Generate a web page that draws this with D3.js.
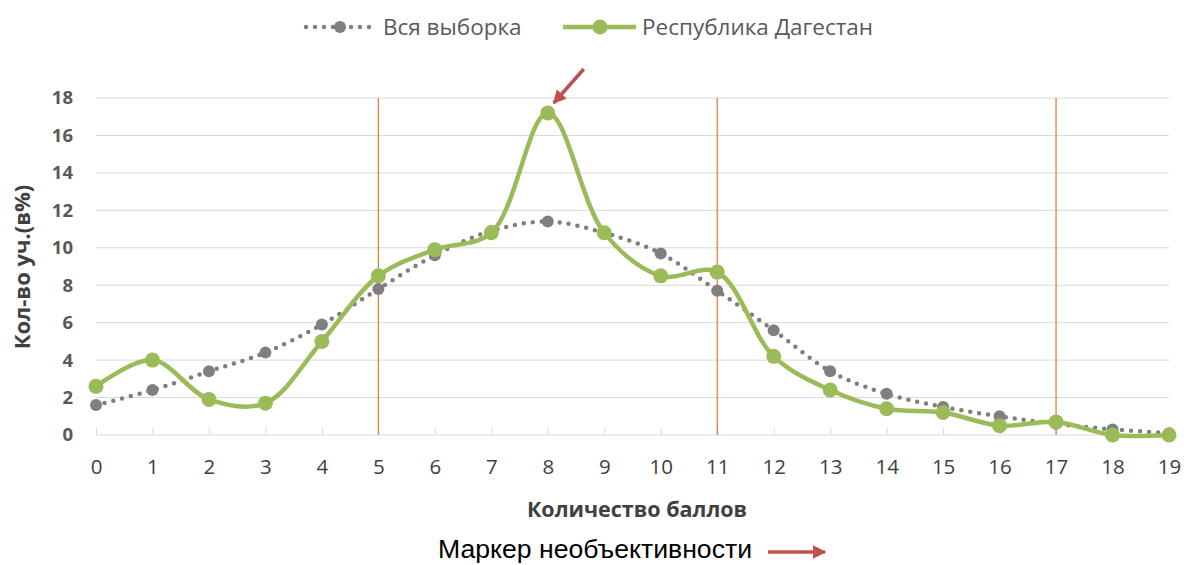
<!DOCTYPE html>
<html><head><meta charset="utf-8">
<script src="https://cdn.jsdelivr.net/npm/d3@7"></script>
<style>body{margin:0;background:#fff}svg{display:block}</style>
</head><body>
<svg id="c" width="1184" height="565"></svg>
<script>
const categories = d3.range(0, 20);
const allSample = [1.6, 2.4, 3.4, 4.4, 5.9, 7.8, 9.6, 10.9, 11.4, 10.8, 9.7, 7.7, 5.6, 3.4, 2.2, 1.5, 1.0, 0.6, 0.3, 0.1];
const dagestan = [2.6, 4.0, 1.9, 1.7, 5.0, 8.5, 9.9, 10.8, 17.2, 10.8, 8.5, 8.7, 4.2, 2.4, 1.4, 1.2, 0.5, 0.7, 0.0, 0.0];
const yTicks = [0, 2, 4, 6, 8, 10, 12, 14, 16, 18];
const markerLines = [5, 11, 17];
const peakIndex = 8;
const seriesNames = ["Вся выборка", "Республика Дагестан"];

const svg = d3.select("#c");
const x = d3.scaleLinear().domain([0, 19]).range([96, 1169]);
const y = d3.scaleLinear().domain([0, 18]).range([435, 98]);
const font = "'Open Sans', sans-serif";

// gridlines
svg.append("g").selectAll("line").data(yTicks.filter(d => d > 0)).join("line")
  .attr("x1", x(0)).attr("x2", x(19)).attr("y1", d => y(d)).attr("y2", d => y(d))
  .attr("stroke", "#d9d9d9").attr("stroke-width", 1);

// x axis
const xAxis = d3.axisBottom(x).tickValues(categories).tickSizeInner(-7).tickSizeOuter(0).tickPadding(10).tickFormat(d3.format("d"));
const gx = svg.append("g").attr("transform", `translate(0,${y(0)})`).call(xAxis);
gx.select(".domain").attr("stroke", "#d9d9d9").attr("d", `M${x(0)},0H${x(19)}`);
gx.selectAll(".tick line").attr("stroke", "#d9d9d9");
gx.selectAll(".tick text").attr("font-family", font).attr("font-size", 20.5).attr("fill", "#404040")
  .attr("y", 38.5).attr("dy", 0);

// y axis labels
const yAxis = d3.axisLeft(y).tickValues(yTicks).tickSize(0).tickPadding(23);
const gy = svg.append("g").attr("transform", `translate(${x(0)},0)`).call(yAxis);
gy.select(".domain").remove();
gy.selectAll(".tick text").attr("font-family", font).attr("font-size", 18.5).attr("font-weight", "bold").attr("fill", "#595959");

// vertical marker lines
svg.append("g").selectAll("line").data(markerLines).join("line")
  .attr("x1", d => x(d)).attr("x2", d => x(d)).attr("y1", y(18)).attr("y2", y(0))
  .attr("stroke", "#e0773a").attr("stroke-width", 1.2);

const line = d3.line().x((d, i) => x(categories[i])).y(d => y(d)).curve(d3.curveCatmullRom.alpha(0.5));

// gray dotted series
svg.append("path").attr("d", line(allSample)).attr("fill", "none")
  .attr("stroke", "#7f7f7f").attr("stroke-width", 4.5).attr("stroke-linecap", "round")
  .attr("stroke-dasharray", "0 9");
svg.append("g").selectAll("circle").data(allSample).join("circle")
  .attr("cx", (d, i) => x(categories[i])).attr("cy", d => y(d)).attr("r", 6).attr("fill", "#7f7f7f");

// green series
svg.append("path").attr("d", line(dagestan)).attr("fill", "none")
  .attr("stroke", "#9bbb59").attr("stroke-width", 4.5).attr("stroke-linejoin", "round");
svg.append("g").selectAll("circle").data(dagestan).join("circle")
  .attr("cx", (d, i) => x(categories[i])).attr("cy", d => y(d)).attr("r", 7.5).attr("fill", "#9bbb59");

// arrow marker def
svg.append("defs").append("marker").attr("id", "ah").attr("viewBox", "0 0 10 10")
  .attr("refX", 9).attr("refY", 5).attr("markerWidth", 4.2).attr("markerHeight", 3.8)
  .attr("markerUnits", "strokeWidth").attr("orient", "auto")
  .append("path").attr("d", "M0,0L10,5L0,10z").attr("fill", "#c0504d");

// peak arrow
const px = x(categories[peakIndex]), py = y(dagestan[peakIndex]);
svg.append("line").attr("x1", px + 36).attr("y1", py - 44).attr("x2", px + 6).attr("y2", py - 10)
  .attr("stroke", "#c0504d").attr("stroke-width", 3.5).attr("marker-end", "url(#ah)");

// axis titles
svg.append("text").attr("x", 637).attr("y", 517).attr("text-anchor", "middle")
  .attr("font-family", font).attr("font-size", 21.5).attr("font-weight", "bold").attr("fill", "#404040")
  .text("Количество баллов");
svg.append("text").attr("transform", "translate(30,267) rotate(-90)").attr("text-anchor", "middle")
  .attr("font-family", font).attr("font-size", 22).attr("font-weight", "bold").attr("fill", "#404040")
  .text("Кол-во уч.(в%)");

// bottom marker note
svg.append("text").attr("x", 438).attr("y", 558)
  .attr("font-family", "'Liberation Sans', Arial, sans-serif").attr("font-size", 26.5).attr("fill", "#000")
  .attr("textLength", 314).attr("lengthAdjust", "spacingAndGlyphs")
  .text("Маркер необъективности");
svg.append("line").attr("x1", 768).attr("y1", 552).attr("x2", 825).attr("y2", 552)
  .attr("stroke", "#c0504d").attr("stroke-width", 3.5).attr("marker-end", "url(#ah)");

// legend
const lg = svg.append("g");
lg.append("line").attr("x1", 306).attr("x2", 376).attr("y1", 27).attr("y2", 27)
  .attr("stroke", "#7f7f7f").attr("stroke-width", 4.5).attr("stroke-linecap", "round").attr("stroke-dasharray", "0 9");
lg.append("circle").attr("cx", 340).attr("cy", 27).attr("r", 6).attr("fill", "#7f7f7f");
lg.append("text").attr("x", 383).attr("y", 35).attr("font-family", font).attr("font-size", 22.5).attr("fill", "#595959").text(seriesNames[0]);
lg.append("line").attr("x1", 563).attr("x2", 636).attr("y1", 27).attr("y2", 27)
  .attr("stroke", "#9bbb59").attr("stroke-width", 4.5);
lg.append("circle").attr("cx", 600).attr("cy", 27).attr("r", 7.5).attr("fill", "#9bbb59");
lg.append("text").attr("x", 642).attr("y", 35).attr("font-family", font).attr("font-size", 22.5).attr("fill", "#595959").text(seriesNames[1]);
</script>
</body></html>
